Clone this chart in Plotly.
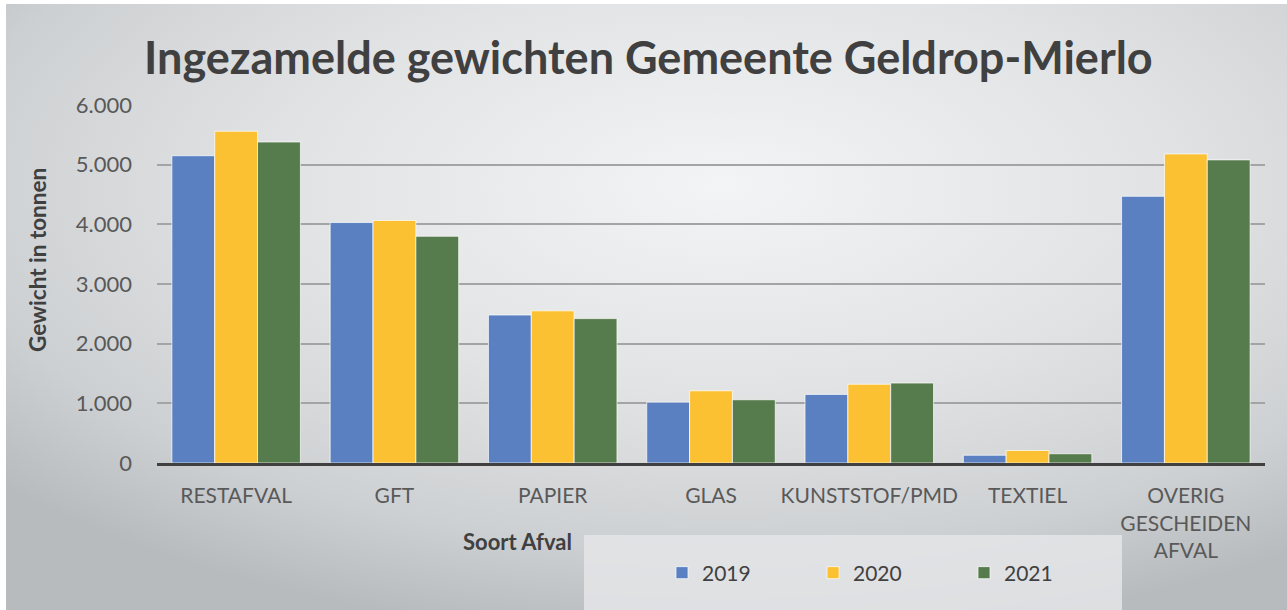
import base64
import plotly.graph_objects as go

categories = ["RESTAFVAL", "GFT", "PAPIER", "GLAS", "KUNSTSTOF/PMD", "TEXTIEL", "OVERIG<br>GESCHEIDEN<br>AFVAL"]
years = ["2019", "2020", "2021"]
v2019 = [5150, 4030, 2480, 1020, 1150, 130, 4470]
v2020 = [5560, 4065, 2550, 1210, 1320, 210, 5180]
v2021 = [5380, 3800, 2420, 1060, 1340, 155, 5080]
colors = ["#5a80c2", "#fcc133", "#567b4c"]
y_ticks = [0, 1000, 2000, 3000, 4000, 5000, 6000]

W, H = 1287, 610
L, R, T, B = 157, 1265, 105, 463
PW, PH = R - L, B - T

def px(x):
    return (x - L) / PW

def py(y):
    return (B - y) / PH

svg = f'''<svg xmlns="http://www.w3.org/2000/svg" width="{W}" height="{H}" viewBox="0 0 {W} {H}" preserveAspectRatio="none">
<defs><radialGradient id="g" cx="0.56" cy="0.30" r="0.75" fx="0.56" fy="0.30">
<stop offset="0" stop-color="#f3f4f5"/><stop offset="0.45" stop-color="#e2e3e5"/>
<stop offset="0.8" stop-color="#cdd0d2"/><stop offset="1" stop-color="#b8bbbe"/></radialGradient></defs>
<rect x="0" y="0" width="{W}" height="{H}" fill="url(#g)"/></svg>'''
src = "data:image/svg+xml;base64," + base64.b64encode(svg.encode()).decode()

fig = go.Figure()
for name, vals, col in zip(years, [v2019, v2020, v2021], colors):
    fig.add_trace(go.Bar(x=categories, y=vals, name=name,
                         marker=dict(color=col, line=dict(color="rgba(255,255,255,0.7)", width=1))))

font = "Lato, 'Open Sans', sans-serif"
fig.update_layout(
    width=W, height=H,
    margin=dict(l=L, r=W - R, t=T, b=H - B, pad=0),
    paper_bgcolor="white", plot_bgcolor="rgba(0,0,0,0)",
    barmode="group", bargap=0.188, bargroupgap=0,
    separators=",.",
    font=dict(family=font, color="#595959", size=21),
    showlegend=True,
    legend=dict(orientation="h", x=px(662), xanchor="left", y=py(573), yanchor="middle",
                bgcolor="rgba(0,0,0,0)", entrywidth=106, entrywidthmode="pixels",
                font=dict(size=21, color="#404040"), traceorder="normal"),
    images=[dict(source=src, xref="paper", yref="paper", x=px(6), y=py(4),
                 sizex=(W - 6) / PW, sizey=(H - 4) / PH, xanchor="left", yanchor="top",
                 sizing="stretch", layer="below")],
    shapes=[dict(type="rect", xref="paper", yref="paper", x0=px(584), x1=px(1122), y0=py(612), y1=py(535),
                 fillcolor="rgba(228,229,231,0.85)", line=dict(width=0), layer="below")],
    annotations=[
        dict(text="<b>Ingezamelde gewichten Gemeente Geldrop-Mierlo</b>", xref="paper", yref="paper",
             x=px(648), y=py(57), xanchor="center", yanchor="middle", showarrow=False,
             font=dict(size=45, color="#404040", family=font)),
        dict(text="<b>Gewicht in tonnen</b>", xref="paper", yref="paper", x=px(37), y=py(260),
             textangle=-90, xanchor="center", yanchor="middle", showarrow=False,
             font=dict(size=22.5, color="#404040", family=font)),
        dict(text="<b>Soort Afval</b>", xref="paper", yref="paper", x=px(517), y=py(541),
             xanchor="center", yanchor="middle", showarrow=False,
             font=dict(size=22, color="#404040", family=font)),
    ],
)
fig.update_yaxes(range=[0, 6000], tickvals=y_ticks, tickformat=",d", showgrid=True,
                 gridcolor="#a3a4a6", gridwidth=1.5, zeroline=False, showline=False,
                 ticklabelstandoff=24, tickfont=dict(size=22, color="#595959"))
fig.update_xaxes(showline=True, linecolor="#404040", linewidth=3, showgrid=False,
                 ticklabelstandoff=12, tickfont=dict(size=21, color="#595959"))

fig.write_html("out.html", config={"displayModeBar": False},
               post_script="document.body.style.margin='0';document.body.style.padding='0';")
